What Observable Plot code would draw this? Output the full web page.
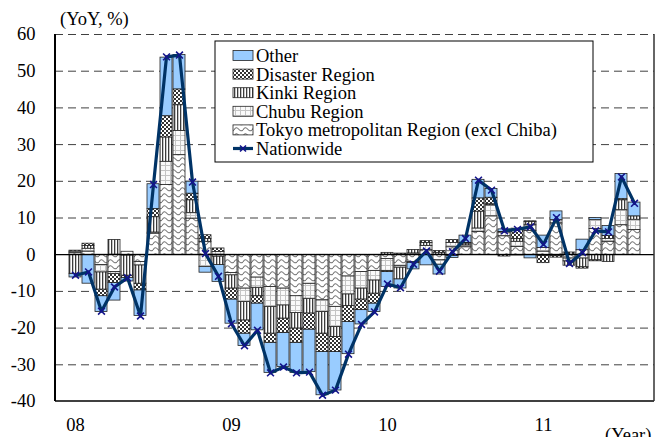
<!DOCTYPE html>
<html>
<head>
<meta charset="utf-8">
<script src="https://cdn.jsdelivr.net/npm/d3@7"></script>
<script src="https://cdn.jsdelivr.net/npm/@observablehq/plot@0.6"></script>
<style>
  html, body { margin: 0; padding: 0; background: #fff; }
  svg { display: block; }
</style>
</head>
<body>
<div id="chart"></div>
<script>
// ---------- data ----------
const months = [
  "2008-01","2008-02","2008-03","2008-04","2008-05","2008-06","2008-07","2008-08","2008-09","2008-10","2008-11","2008-12",
  "2009-01","2009-02","2009-03","2009-04","2009-05","2009-06","2009-07","2009-08","2009-09","2009-10","2009-11","2009-12",
  "2010-01","2010-02","2010-03","2010-04","2010-05","2010-06","2010-07","2010-08","2010-09","2010-10","2010-11","2010-12",
  "2011-01","2011-02","2011-03","2011-04","2011-05","2011-06","2011-07","2011-08"
];
const tokyo = [0.4,0.8,-2.8,-4.7,0.8,-2.0,5.7,19.0,27.1,9.8,3.5,-0.5,
  -5.0,-9.2,-6.2,-8.8,-9.2,-11.3,-7.9,-12.4,-14.2,-5.9,-4.7,-4.4,
  -1.2,-3.0,-2.0,1.2,-1.5,2.0,2.0,6.2,10.4,5.0,2.1,6.5,
  0.8,8.5,-1.0,1.2,7.0,3.5,8.0,6.7];
const chubu = [0.4,0.8,-2.0,-0.5,-0.2,-0.9,0.3,6.3,6.6,1.5,-3.3,0.7,
  -0.6,-3.7,-2.8,-5.4,-4.6,-4.6,-4.1,-3.2,-5.5,-4.9,-4.5,-2.6,
  -3.2,-0.5,0.3,1.2,-1.2,1.2,0.5,0.9,3.0,1.0,1.4,1.5,
  1.0,0.9,-0.8,-1.0,2.4,0.8,4.1,2.8];
const kinki = [-5.2,0.8,-4.7,4.0,-5.5,-5.0,4.2,6.6,7.0,3.5,0.8,-2.3,
  -3.6,-5.0,-2.3,-7.3,-3.6,-4.2,-4.0,-5.9,-2.7,-3.2,-3.0,-3.6,
  0.5,-3.2,1.0,0.8,0.5,-0.3,0.5,4.6,0.3,0.2,0.8,0.9,
  -0.3,-0.3,-1.2,-2.4,-1.5,-2.0,2.7,0.9];
const disaster = [0.3,0.6,-1.8,-2.5,-0.6,-1.8,2.2,5.8,4.3,1.8,1.0,1.0,
  -3.0,-3.6,-2.0,-2.5,-3.9,-3.9,-4.4,-5.0,-4.1,-4.3,-2.9,-2.7,
  -0.3,0.3,-0.2,0.5,0.5,0.8,0.2,3.6,1.8,-0.5,2.8,0.2,
  -2.0,-0.5,0.6,-0.4,-0.3,0.8,0.3,0.0];
const other = [-1.0,-7.9,-4.3,-4.8,-1.0,-7.0,6.8,16.0,9.4,3.3,-1.6,-4.6,
  -6.6,-3.4,-7.3,-8.2,-9.3,-8.2,-11.6,-11.8,-10.5,-8.8,-3.9,-2.3,
  -4.1,-2.5,-1.8,-2.9,-2.7,-0.6,2.0,5.1,2.4,0.7,-0.2,-1.0,
  3.4,2.4,0.0,2.9,0.6,2.7,6.9,3.8];
const nationwide = [-5.6,-4.7,-15.4,-8.8,-6.3,-16.7,19.1,53.9,54.4,19.8,0.3,-5.9,
  -18.8,-24.8,-20.6,-32.2,-30.6,-32.2,-32.0,-38.3,-36.9,-27.1,-19.0,-15.6,
  -8.0,-9.0,-2.6,1.0,-4.5,0.8,4.4,20.3,17.6,6.5,6.9,7.6,
  2.8,10.1,-2.4,0.6,6.5,6.2,21.2,14.0];

const seriesNames = ["Other","Disaster Region","Kinki Region","Chubu Region","Tokyo metropolitan Region (excl Chiba)"];
const seriesValues = [other, disaster, kinki, chubu, tokyo];
const stackOrder = ["Tokyo metropolitan Region (excl Chiba)","Chubu Region","Kinki Region","Disaster Region","Other"];
const seriesFills = ["#99CCFF","url(#pDis)","url(#pKinki)","url(#pChubu)","url(#pTokyo)"];
const lineName = "Nationwide";

const yTicks = [-40,-30,-20,-10,0,10,20,30,40,50,60];
const gridTicks = [-30,-20,-10,10,20,30,40,50,60];
const yearTicks = ["2008-01","2009-01","2010-01","2011-01"];
const yearLabels = ["08","09","10","11"];
const yLabel = "(YoY, %)";
const xLabel = "(Year)";

// ---------- build tables ----------
const rows = [];
seriesNames.forEach((s, k) => months.forEach((m, i) => rows.push({month: m, series: s, value: seriesValues[k][i]})));
const natRows = months.map((m, i) => ({month: m, value: nationwide[i]}));
const yearLabelOf = new Map(yearTicks.map((t, i) => [t, yearLabels[i]]));

const FONT = "'Liberation Serif','Times New Roman',Times,serif";

const svg = Plot.plot({
  width: 663,
  height: 437,
  marginLeft: 55,
  marginRight: 9,
  marginTop: 34,
  marginBottom: 36,
  style: {fontFamily: FONT, fontSize: "18.5px", background: "#fff", color: "#000", overflow: "visible"},
  x: {type: "band", domain: months, paddingInner: 0.06, paddingOuter: 0.02, axis: null},
  y: {domain: [-40, 60], axis: null},
  color: {type: "ordinal", domain: seriesNames, range: seriesFills},
  marks: [
    Plot.ruleY(gridTicks, {stroke: "#404040", strokeWidth: 1, strokeDasharray: "8,5"}),
    Plot.barY(rows, Plot.stackY({x: "month", y: "value", z: "series", fill: "series", order: stackOrder, stroke: "#222", strokeWidth: 0.8})),
    Plot.ruleY([0], {stroke: "#000", strokeWidth: 1.2}),
    Plot.line(natRows, {x: "month", y: "value", stroke: "#003366", strokeWidth: 3.2}),
    Plot.dot(natRows, {x: "month", y: "value", symbol: "times", r: 3.2, stroke: "#14148c", strokeWidth: 1.6}),
    Plot.axisY({ticks: yTicks, tickFormat: d => String(d), tickSize: 0, tickPadding: 20, label: null}),
    Plot.axisX({ticks: yearTicks, tickFormat: d => yearLabelOf.get(d), tickSize: 0, tickPadding: 16, label: null})
  ]
});

// ---------- patterns ----------
const root = d3.select(svg);
const defs = root.insert("defs", ":first-child");
const pDis = defs.append("pattern").attr("id", "pDis").attr("patternUnits", "userSpaceOnUse").attr("width", 4).attr("height", 4);
pDis.append("rect").attr("width", 4).attr("height", 4).attr("fill", "#fff");
pDis.append("rect").attr("width", 2).attr("height", 2).attr("fill", "#333");
pDis.append("rect").attr("x", 2).attr("y", 2).attr("width", 2).attr("height", 2).attr("fill", "#333");
const pK = defs.append("pattern").attr("id", "pKinki").attr("patternUnits", "userSpaceOnUse").attr("width", 3).attr("height", 3);
pK.append("rect").attr("width", 3).attr("height", 3).attr("fill", "#fff");
pK.append("rect").attr("width", 1.3).attr("height", 3).attr("fill", "#3c3c3c");
const pC = defs.append("pattern").attr("id", "pChubu").attr("patternUnits", "userSpaceOnUse").attr("width", 5).attr("height", 5);
pC.append("rect").attr("width", 5).attr("height", 5).attr("fill", "#fafafa");
pC.append("rect").attr("width", 5).attr("height", 1).attr("fill", "#c4c4c4");
pC.append("rect").attr("width", 1).attr("height", 5).attr("fill", "#c4c4c4");
const pT = defs.append("pattern").attr("id", "pTokyo").attr("patternUnits", "userSpaceOnUse").attr("width", 9).attr("height", 6);
pT.append("rect").attr("width", 9).attr("height", 6).attr("fill", "#fff");
pT.append("path").attr("d", "M0,4 Q2.25,0 4.5,3 T9,4").attr("fill", "none").attr("stroke", "#777").attr("stroke-width", 1.1);

// ---------- frame ----------
const xr = svg.scale("x").range, yr = svg.scale("y").range;
const L = Math.min(...xr), R = Math.max(...xr), B = Math.max(...yr), T = Math.min(...yr);
const fr = root.append("g");
fr.append("line").attr("x1", L).attr("x2", L).attr("y1", T).attr("y2", B).attr("stroke", "#000").attr("stroke-width", 2);
fr.append("line").attr("x1", L).attr("x2", R).attr("y1", B).attr("y2", B).attr("stroke", "#000").attr("stroke-width", 1.5);
fr.append("line").attr("x1", R).attr("x2", R).attr("y1", T).attr("y2", B).attr("stroke", "#333").attr("stroke-width", 1.5);

// ---------- labels ----------
root.append("text").attr("x", 60).attr("y", 25).attr("text-anchor", "start").attr("font-family", FONT).attr("font-size", 18.5).text(yLabel);
root.append("text").attr("x", 605).attr("y", 441).attr("text-anchor", "start").attr("font-family", FONT).attr("font-size", 18.5).text(xLabel);

// ---------- legend ----------
const lg = root.append("g").attr("font-family", FONT).attr("font-size", 18.5).attr("text-anchor", "start");
lg.append("rect").attr("x", 215).attr("y", 41).attr("width", 378).attr("height", 121).attr("fill", "#fff").attr("stroke", "#000").attr("stroke-width", 1);
const rowY = i => 55.5 + i * 18.6;
seriesNames.forEach((s, i) => {
  lg.append("rect").attr("x", 233).attr("y", rowY(i) - 5).attr("width", 20).attr("height", 10)
    .attr("fill", seriesFills[i]).attr("stroke", "#222").attr("stroke-width", 0.8);
  lg.append("text").attr("x", 256).attr("y", rowY(i)).attr("dy", "0.35em").attr("text-anchor", "start").text(s);
});
const ny = rowY(5);
lg.append("line").attr("x1", 233).attr("x2", 253).attr("y1", ny).attr("y2", ny).attr("stroke", "#003366").attr("stroke-width", 3.2);
lg.append("path").attr("d", `M${243-3},${ny-3}L${243+3},${ny+3}M${243-3},${ny+3}L${243+3},${ny-3}`).attr("stroke", "#14148c").attr("stroke-width", 1.6);
lg.append("text").attr("x", 256).attr("y", ny).attr("dy", "0.35em").attr("text-anchor", "start").text(lineName);

document.getElementById("chart").appendChild(svg);
</script>
</body>
</html>
